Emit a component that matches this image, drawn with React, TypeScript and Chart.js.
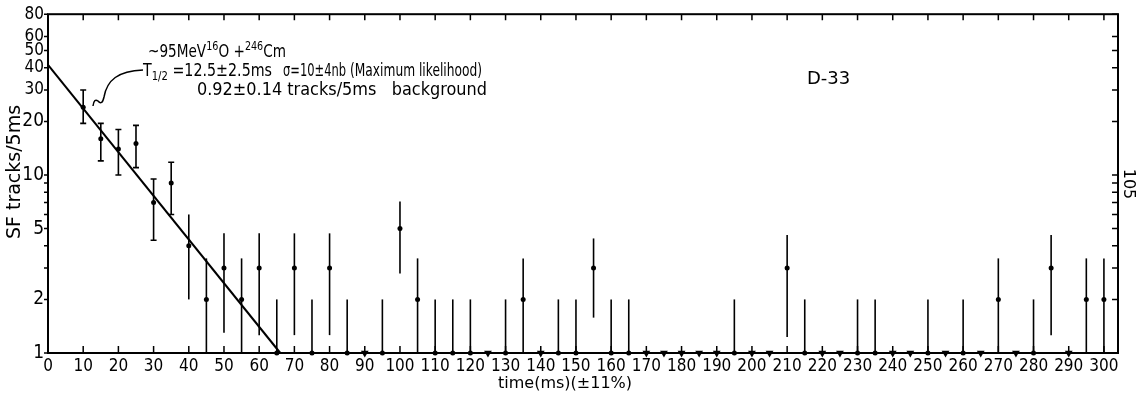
import React, { useEffect, useRef } from 'react';
import { Chart, registerables } from 'chart.js';

Chart.register(...registerables);

// ---- data ----
const binTimes = [10, 15, 20, 25, 30, 35, 40, 45, 50, 55, 60, 65, 70, 75, 80, 85, 90, 95, 100, 105, 110, 115, 120, 125, 130, 135, 140, 145, 150, 155, 160, 165, 170, 175, 180, 185, 190, 195, 200, 205, 210, 215, 220, 225, 230, 235, 240, 245, 250, 255, 260, 265, 270, 275, 280, 285, 290, 295, 300];
const counts = [24, 16, 14, 15, 7, 9, 4, 2, 3, 2, 3, 1, 3, 1, 3, 1, 0, 1, 5, 2, 1, 1, 1, 0, 1, 2, 0, 1, 1, 3, 1, 1, 0, 0, 0, 0, 0, 1, 0, 0, 3, 1, 0, 0, 1, 1, 0, 0, 1, 0, 1, 0, 2, 0, 1, 3, 0, 2, 2];
const errLow: (number | null)[] = [19.5, 12, 10, 11, 4.3, 6, 2, 1, 1.3, 1, 1.26, 1, 1.26, 1, 1.26, 1, null, 1, 2.8, 1, 1, 1, 1, null, 1, 1, null, 1, 1, 1.58, 1, 1, null, null, null, null, null, 1, null, null, 1.23, 1, null, null, 1, 1, null, null, 1, null, 1, null, 1, null, 1, 1.26, null, 1, 1];
const errHigh: (number | null)[] = [30, 19.5, 18, 19, 9.5, 11.8, 6, 3.4, 4.7, 3.4, 4.7, 2, 4.7, 2, 4.7, 2, null, 2, 7.1, 3.4, 2, 2, 2, null, 2, 3.4, null, 2, 2, 4.4, 2, 2, null, null, null, null, null, 2, null, null, 4.6, 2, null, null, 2, 2, null, null, 2, null, 2, null, 3.4, null, 2, 4.6, null, 3.4, 3.4];
const fitTimes = [0, 66];
const fitCounts = [41.5, 1];
const xTickValues = [0, 10, 20, 30, 40, 50, 60, 70, 80, 90, 100, 110, 120, 130, 140, 150, 160, 170, 180, 190, 200, 210, 220, 230, 240, 250, 260, 270, 280, 290, 300];
const yTickValues = [1, 2, 5, 10, 20, 30, 40, 50, 60, 80];
const yMinorValues = [3, 4, 6, 7, 8, 9];
const X_MIN = 0;
const X_MAX = 304;
const Y_MIN = 1;
const Y_MAX = 80;

const cond = '"DejaVu Sans Condensed", "DejaVu Sans", sans-serif';
const sans = '"DejaVu Sans", sans-serif';

type Piece = { s: string; sup?: number };

const drawLine = (ctx: CanvasRenderingContext2D, pieces: Piece[], x0: number, base: number, x1: number) => {
  const big = '17px ' + sans;
  const small = '12px ' + sans;
  let w = 0;
  pieces.forEach((p) => {
    ctx.font = p.sup ? small : big;
    w += ctx.measureText(p.s).width;
  });
  const sx = (x1 - x0) / w;
  ctx.save();
  ctx.translate(x0, base);
  ctx.scale(sx, 1);
  let cx = 0;
  pieces.forEach((p) => {
    ctx.font = p.sup ? small : big;
    ctx.fillText(p.s, cx, p.sup || 0);
    cx += ctx.measureText(p.s).width;
  });
  ctx.restore();
};

const decorPlugin = {
  id: 'decor',
  afterDatasetsDraw(chart: any) {
    const { ctx, chartArea: a, scales } = chart;
    const x = scales.x;
    const y = scales.y;
    ctx.save();
    ctx.strokeStyle = '#000';
    ctx.fillStyle = '#000';
    // error bars
    ctx.lineWidth = 1.6;
    binTimes.forEach((t, i) => {
      const lo = errLow[i];
      const hi = errHigh[i];
      if (lo == null || hi == null) return;
      const px = x.getPixelForValue(t);
      const y1 = y.getPixelForValue(lo);
      const y2 = y.getPixelForValue(hi);
      ctx.beginPath();
      ctx.moveTo(px, y1);
      ctx.lineTo(px, y2);
      if (hi >= 9) {
        ctx.moveTo(px - 3, y1);
        ctx.lineTo(px + 3, y1);
        ctx.moveTo(px - 3, y2);
        ctx.lineTo(px + 3, y2);
      }
      ctx.stroke();
    });
    // frame
    ctx.lineWidth = 2;
    ctx.strokeRect(a.left, a.top, a.right - a.left, a.bottom - a.top);
    // x ticks inward on bottom and top
    ctx.lineWidth = 1.5;
    xTickValues.forEach((v) => {
      const px = x.getPixelForValue(v);
      ctx.beginPath();
      ctx.moveTo(px, a.bottom);
      ctx.lineTo(px, a.bottom - 7);
      ctx.moveTo(px, a.top);
      ctx.lineTo(px, a.top + 6);
      ctx.stroke();
    });
    // y ticks
    [...yTickValues, ...yMinorValues].forEach((v) => {
      const py = y.getPixelForValue(v);
      ctx.beginPath();
      ctx.moveTo(a.left, py);
      ctx.lineTo(a.left - 4, py);
      ctx.moveTo(a.right, py);
      ctx.lineTo(a.right - 6, py);
      ctx.stroke();
    });
    // leader curve from T1/2 to the fit line
    ctx.lineWidth = 1.5;
    ctx.beginPath();
    ctx.moveTo(143, 70);
    ctx.bezierCurveTo(118, 71, 107, 80, 104, 97);
    ctx.quadraticCurveTo(102, 106, 98, 101);
    ctx.quadraticCurveTo(94, 98, 93, 106);
    ctx.stroke();

    // axis titles
    ctx.textBaseline = 'middle';
    ctx.textAlign = 'center';
    ctx.font = '19px ' + sans;
    ctx.save();
    ctx.translate(15, 172);
    ctx.rotate(-Math.PI / 2);
    ctx.fillText('SF tracks/5ms', 0, 0);
    ctx.restore();
    ctx.font = '16px ' + sans;
    ctx.fillText('time(ms)(±11%)', 565, 384);

    // annotation
    ctx.textAlign = 'left';
    ctx.textBaseline = 'alphabetic';
    drawLine(ctx, [{ s: '~95MeV' }, { s: '16', sup: -7 }, { s: 'O +' }, { s: '246', sup: -7 }, { s: 'Cm' }], 148, 57, 286);
    drawLine(ctx, [{ s: 'T' }, { s: '1/2', sup: 4 }, { s: ' =12.5±2.5ms' }], 143, 76, 272);
    drawLine(ctx, [{ s: 'σ=10±4nb' }], 283, 76, 346);
    drawLine(ctx, [{ s: '(Maximum likelihood)' }], 350, 76, 482);
    drawLine(ctx, [{ s: '0.92±0.14 tracks/5ms   background' }], 197, 95, 487);
    ctx.font = '18px ' + sans;
    ctx.fillText('D-33', 807, 84);
    ctx.save();
    ctx.translate(1124, 184);
    ctx.rotate(Math.PI / 2);
    ctx.textAlign = 'center';
    ctx.font = '16px ' + sans;
    ctx.fillText('105', 0, 0);
    ctx.restore();
    ctx.restore();
  },
};

export default function App() {
  const canvasRef = useRef<HTMLCanvasElement | null>(null);

  useEffect(() => {
    document.body.style.margin = '0';
    const canvas = canvasRef.current;
    if (!canvas) return;
    const nonZero = binTimes
      .map((t, i) => ({ x: t, y: counts[i] }))
      .filter((p) => p.y > 0);
    const zeros = binTimes
      .map((t, i) => ({ x: t, c: counts[i] }))
      .filter((p) => p.c === 0)
      .map((p) => ({ x: p.x, y: Y_MIN }));
    const fit = fitTimes.map((t, i) => ({ x: t, y: fitCounts[i] }));

    const chart = new Chart(canvas, {
      type: 'scatter',
      data: {
        datasets: [
          {
            type: 'line',
            label: 'fit',
            data: fit,
            borderColor: '#000',
            borderWidth: 2,
            pointRadius: 0,
            fill: false,
          },
          {
            label: 'SF tracks',
            data: nonZero,
            backgroundColor: '#000',
            borderColor: '#000',
            pointRadius: 2.5,
            pointBorderWidth: 0,
          },
          {
            label: 'zero',
            data: zeros,
            pointStyle: 'triangle',
            rotation: 180,
            backgroundColor: '#000',
            borderColor: '#000',
            pointRadius: 4.5,
            pointBorderWidth: 0,
          },
        ],
      } as any,
      options: {
        animation: false,
        responsive: true,
        maintainAspectRatio: false,
        clip: false as any,
        layout: { padding: { top: 14, right: 24, left: 0, bottom: 0 } },
        plugins: {
          legend: { display: false },
          tooltip: { enabled: false },
        },
        scales: {
          x: {
            type: 'linear',
            min: X_MIN,
            max: X_MAX,
            afterBuildTicks: (s: any) => {
              s.ticks = xTickValues.map((v) => ({ value: v }));
            },
            afterFit: (s: any) => {
              s.height = 42;
            },
            grid: { display: false, drawTicks: false },
            border: { display: false },
            ticks: {
              autoSkip: false,
              maxRotation: 0,
              padding: 3,
              color: '#000',
              font: { family: cond, size: 17 },
            },
          },
          y: {
            type: 'logarithmic',
            min: Y_MIN,
            max: Y_MAX,
            afterBuildTicks: (s: any) => {
              s.ticks = yTickValues.map((v) => ({ value: v }));
            },
            afterFit: (s: any) => {
              s.width = 48;
            },
            grid: { display: false, drawTicks: false },
            border: { display: false },
            ticks: {
              autoSkip: false,
              padding: 4,
              color: '#000',
              callback: (v: any) => String(v),
              font: (c: any) => ({ family: cond, size: c.tick && c.tick.value >= 30 ? 17 : 19 }),
            },
          },
        },
      },
      plugins: [decorPlugin],
    });
    return () => chart.destroy();
  }, []);

  return (
    <div style={{ position: 'relative', width: 1142, height: 395 }}>
      <canvas ref={canvasRef} />
    </div>
  );
}
